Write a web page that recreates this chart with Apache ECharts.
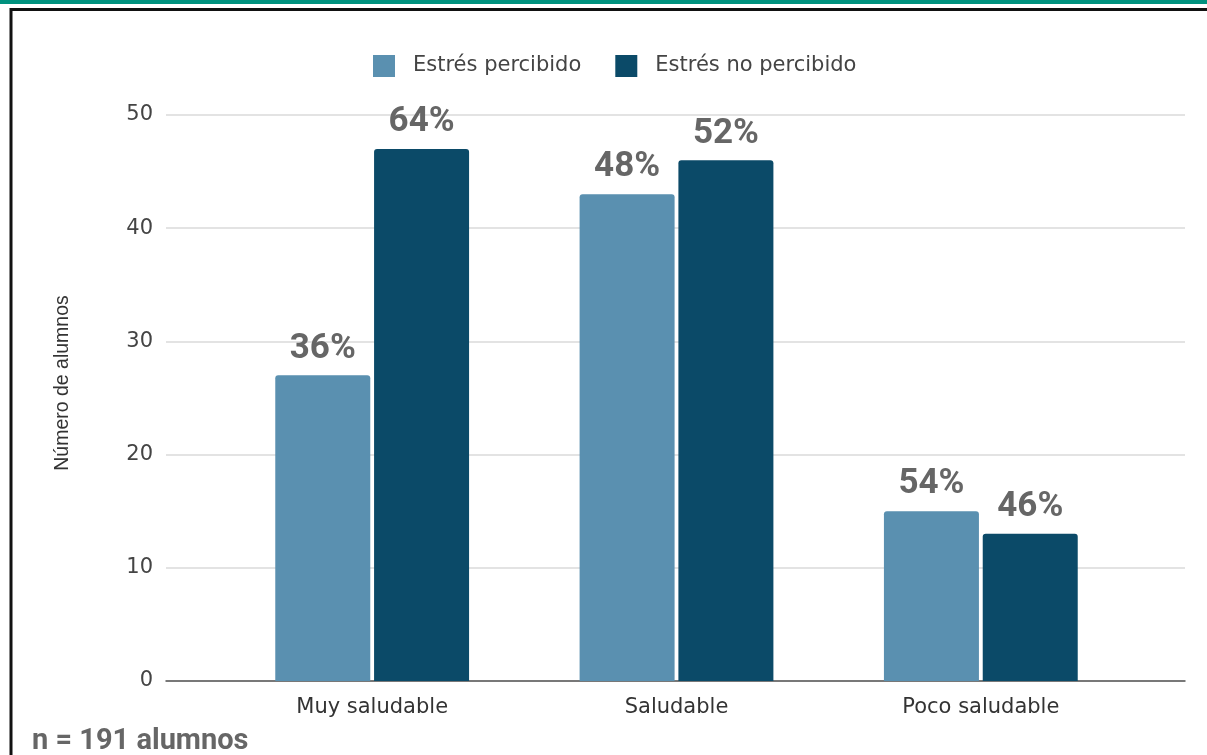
<!DOCTYPE html>
<html>
<head>
<meta charset="utf-8">
<title>Estrés por hábitos</title>
<script src="https://cdn.jsdelivr.net/npm/echarts@6/dist/echarts.min.js"></script>
<style>
  html, body { margin: 0; padding: 0; background: #fff; }
  #chart { width: 1207px; height: 755px; }
</style>
</head>
<body>
<div id="chart"></div>
<script>
// datos
const categorias = ['Muy saludable', 'Saludable', 'Poco saludable'];
const seriesNames = ['Estrés percibido', 'Estrés no percibido'];
const percibido = [27, 43, 15];
const noPercibido = [47, 46, 13];
const pctPercibido = ['36%', '48%', '54%'];
const pctNoPercibido = ['64%', '52%', '46%'];
const yTicks = [0, 10, 20, 30, 40, 50];
const nota = 'n = 191 alumnos';

const colorClaro = '#5a90b0';
const colorOscuro = '#0b4a68';
const fuenteEjes = 'DejaVu Sans';

const labelStyle = (pcts) => ({
  show: true,
  position: 'top',
  distance: 9,
  fontFamily: 'Roboto',
  fontWeight: 'bold',
  fontSize: 35,
  color: '#666666',
  formatter: (p) => pcts[p.dataIndex]
});

const chart = echarts.init(document.getElementById('chart'));

const option = {
  animation: false,
  textStyle: { fontFamily: fuenteEjes },
  legend: {
    data: seriesNames,
    left: 368,
    top: 50,
    itemWidth: 22,
    itemHeight: 22,
    itemGap: 34,
    icon: 'rect',
    textStyle: { fontFamily: fuenteEjes, fontSize: 21, color: '#444', padding: [0, 0, 0, 13] }
  },
  grid: [
    // rejilla de fondo (lineas horizontales y eje Y)
    { left: 166, right: 22, top: 115, bottom: 74 },
    // rejilla de las barras
    { left: 220, right: 74, top: 115, bottom: 74 }
  ],
  xAxis: [
    {
      gridIndex: 0, type: 'value', min: 0, max: 1,
      axisLine: { show: true, lineStyle: { color: '#555', width: 1.5 } },
      axisTick: { show: false }, axisLabel: { show: false }, splitLine: { show: false }
    },
    {
      gridIndex: 1, type: 'category', data: categorias,
      axisLine: { show: false }, axisTick: { show: false },
      axisLabel: { fontFamily: fuenteEjes, fontSize: 21, color: '#333', margin: 16 }
    }
  ],
  yAxis: [
    {
      gridIndex: 0, type: 'value', min: yTicks[0], max: yTicks[yTicks.length - 1], interval: 10,
      name: 'Número de alumnos', nameLocation: 'middle', nameGap: 93,
      nameTextStyle: { fontFamily: 'Liberation Sans', fontSize: 19.5, color: '#333', padding: [0, 0, 0, 30] },
      axisLine: { show: false }, axisTick: { show: false },
      axisLabel: { fontFamily: fuenteEjes, fontSize: 21, color: '#444', margin: 13 },
      splitLine: { lineStyle: { color: '#dadada', width: 1.5 } }
    },
    {
      gridIndex: 1, type: 'value', min: 0, max: 50,
      show: false, splitLine: { show: false }
    }
  ],
  series: [
    {
      name: seriesNames[0], type: 'bar', xAxisIndex: 1, yAxisIndex: 1,
      data: percibido, barWidth: 95, barGap: '4%',
      itemStyle: { color: colorClaro, borderRadius: [3, 3, 0, 0] },
      label: labelStyle(pctPercibido)
    },
    {
      name: seriesNames[1], type: 'bar', xAxisIndex: 1, yAxisIndex: 1,
      data: noPercibido, barWidth: 95,
      itemStyle: { color: colorOscuro, borderRadius: [3, 3, 0, 0] },
      label: labelStyle(pctNoPercibido)
    }
  ],
  graphic: [
    { type: 'rect', left: 0, top: 0, shape: { width: 1207, height: 4 }, style: { fill: '#00917e' } },
    { type: 'polyline', shape: { points: [[11, 760], [11, 9.5], [1210, 9.5]] }, style: { stroke: '#111', lineWidth: 3, fill: null } },
    {
      type: 'text', left: 32, top: 727,
      style: { text: nota, fontFamily: 'Roboto', fontWeight: 'bold', fontSize: 29, fill: '#666' }
    }
  ]
};

chart.setOption(option);
window.onresize = function () { chart.resize(); };
</script>
</body>
</html>
